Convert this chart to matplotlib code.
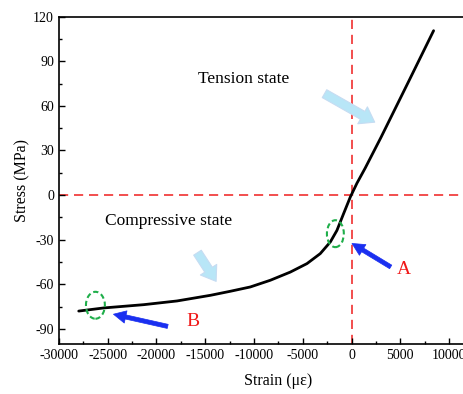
import matplotlib
matplotlib.use('Agg')
import matplotlib.pyplot as plt
from matplotlib.patches import Ellipse, FancyArrowPatch
from matplotlib.ticker import MultipleLocator

# stress-strain curve
strain = [-27970, -25410, -21310, -17890, -14460, -12430, -10380, -8330, -6280,
          -4570, -3210, -2180, -1500, -820, -130, 550, 1400, 3000, 5860, 8410]
stress = [-77.9, -75.8, -73.6, -71.1, -67.3, -64.6, -61.7, -57.2, -51.7,
          -46.0, -39.3, -31.5, -23.7, -12.5, -1.3, 8.0, 18.2, 38.6, 76.5, 110.5]

xticks = [-30000, -25000, -20000, -15000, -10000, -5000, 0, 5000, 10000]
yticks = [-90, -60, -30, 0, 30, 60, 90, 120]

plt.rcParams['font.family'] = ['Liberation Serif', 'DejaVu Serif']
plt.rcParams['axes.unicode_minus'] = False

fig = plt.figure(figsize=(4.64, 3.94), dpi=100)
ax = fig.add_axes([0.127, 0.127, 0.946, 0.831])

ax.axhline(0, color='#f03030', ls=(0, (5.5, 3.5)), lw=1.2, zorder=1)
ax.axvline(0, color='#f03030', ls=(0, (5.5, 3.5)), lw=1.2, zorder=1)
ax.plot(strain, stress, color='black', lw=2.0, solid_capstyle='round',
        solid_joinstyle='round', zorder=3)

ax.set_xlim(-30000, 15000)
ax.set_ylim(-100, 120)
ax.set_xticks(xticks)
ax.set_yticks(yticks)
ax.xaxis.set_minor_locator(MultipleLocator(2500))
ax.yaxis.set_minor_locator(MultipleLocator(15))
ax.tick_params(which='both', direction='in', labelsize=10, top=False, right=False)
ax.tick_params(which='major', length=4, width=1)
ax.tick_params(which='minor', length=2.5, width=1)
for s in ax.spines.values():
    s.set_linewidth(1.2)

ax.set_xlabel('Strain (\u03bc\u03b5)', fontsize=11.5, labelpad=8)
ax.set_ylabel('Stress (MPa)', fontsize=11.5, labelpad=2)

# state labels and light blue arrows
ax.text(-11050, 78.3, 'Tension state', fontsize=12.5, ha='center', va='center')
ax.text(-18760, -17.7, 'Compressive state', fontsize=12.5, ha='center', va='center')
for tail, tip in [((-3020, 69.1), (2620, 48.1)), ((-15950, -37.1), (-13730, -59.5))]:
    ax.add_patch(FancyArrowPatch(tail, tip, mutation_scale=10,
                                 arrowstyle='simple,head_width=1.4,head_length=1.0,tail_width=0.65',
                                 fc='#b8e6f7', ec='#c6dcf2', lw=0.8, zorder=4))

# green dashed ellipses
ax.add_patch(Ellipse((-1660, -25.9), 1735, 18.1, fill=False, ec='#1fae4a',
                     ls=(0, (2.5, 1.5)), lw=1.5, zorder=5))
ax.add_patch(Ellipse((-26260, -74.0), 1940, 18.1, fill=False, ec='#1fae4a',
                     ls=(0, (2.5, 1.5)), lw=1.5, zorder=5))

# blue arrows with red letters
for tail, tip in [((4255, -49.2), (-200, -31.5)), ((-18570, -88.6), (-24690, -79.6))]:
    ax.add_patch(FancyArrowPatch(tail, tip, mutation_scale=10,
                                 arrowstyle='simple,head_width=0.9,head_length=0.9,tail_width=0.3',
                                 fc='#1a2ff0', ec='#1a2ff0', lw=0.5, zorder=5))
ax.text(5380, -49.9, 'A', color='#f01818', fontsize=14, ha='center', va='center')
ax.text(-16290, -85.2, 'B', color='#f01818', fontsize=14, ha='center', va='center')

fig.savefig('out.png', dpi=100)
